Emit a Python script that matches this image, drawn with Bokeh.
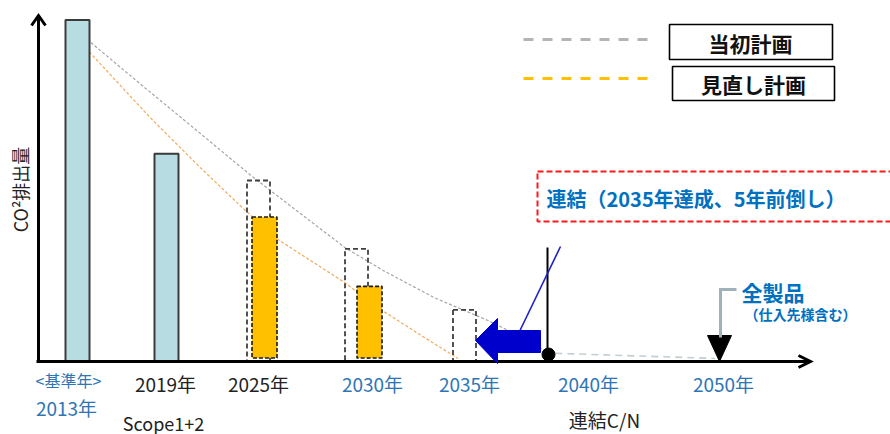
import numpy as np
from bokeh.plotting import figure
from bokeh.models import Range1d, Label
from bokeh.embed import file_html
from bokeh.resources import INLINE

# --- data: CO2 emissions, base year 2013 = 100 ---------------------------
years = [2013, 2019, 2025, 2030, 2035, 2040, 2050]
year_labels = ["2013年", "2019年", "2025年", "2030年", "2035年", "2040年", "2050年"]

actual_years = [2013, 2019]
actual_values = [100.0, 60.8]

initial_plan_years = [2025, 2030, 2035]
initial_plan_values = [53.0, 33.0, 15.1]

revised_plan_years = [2025, 2030]
revised_plan_values = [42.3, 22.0]

# reduction paths (当初計画 / 見直し計画)
initial_path_years = [2013.9, 2017.2, 2021.2, 2024.5, 2025.6, 2029.4, 2031.25, 2033.6, 2036.4, 2037.6, 2040.0]
initial_path_values = [93.4, 81.4, 66.8, 54.5, 50.1, 33.4, 26.6, 18.7, 12.0, 9.1, 2.6]
revised_path_years = [2013.0, 2013.7, 2017.9, 2021.2, 2024.0, 2026.0, 2029.4, 2031.2, 2033.0, 2034.7]
revised_path_values = [98.7, 91.1, 71.4, 56.8, 44.8, 35.7, 23.1, 14.9, 7.6, 0.9]
tail_years = [2040.4, 2049.8]
tail_values = [2.4, 0.9]

# --- layout --------------------------------------------------------------
W, H = 890, 434
BASE_ROW = 361          # canvas row of the time axis
UNIT = 3.415            # canvas rows per emission unit
slot_x = [77, 166, 258, 356, 464, 548, 718]   # horizontal slot of each year
revised_shift = [6, 13]                        # revised bars sit right of the plan boxes
label_x = [66, 165, 258, 372, 469, 588, 723]
label_colors = ["#2E75B6", "#222222", "#222222", "#2E75B6", "#2E75B6", "#2E75B6", "#2E75B6"]

JP = "Noto Sans CJK JP"
BLUE_TXT = "#0070C0"


def xpos(yrs):
    return np.interp(yrs, years, slot_x)


def lv(row):
    """canvas row -> value units on the emission scale"""
    return (BASE_ROW - row) / UNIT


p = figure(width=W, height=H, output_backend="svg", toolbar_location=None,
           x_range=Range1d(0, W), y_range=Range1d(lv(H), lv(0)),
           min_border=0, outline_line_color=None, background_fill_color="white")
p.axis.visible = False
p.grid.visible = False

# reduction paths
p.line(xpos(initial_path_years), initial_path_values, line_color="#a6a6a6",
       line_width=1.2, line_dash="3 2")
p.line(xpos(revised_path_years), revised_path_values, line_color="#f2aa5a",
       line_width=1.2, line_dash="3 2")
p.line(xpos(tail_years), tail_values, line_color="#c3ced3", line_width=1.6,
       line_dash="7 5")

# actual emissions
p.vbar(x=xpos(actual_years), top=actual_values, bottom=0, width=24,
       fill_color="#b7dde3", line_color="#3a3a3a", line_width=2)

# initial plan (dashed outline)
p.vbar(x=xpos(initial_plan_years), top=initial_plan_values, bottom=0, width=23,
       fill_color=None, line_color="#404040", line_width=1.8, line_dash="5 3")

# revised plan
p.vbar(x=xpos(revised_plan_years) + np.array(revised_shift), top=revised_plan_values,
       bottom=lv(357.5), width=25, fill_color="#FFC000", line_color="#1a1a1a",
       line_width=1.6, line_dash="4 2")

# axes with arrow heads
p.line([38, 38], [lv(362), lv(16)], line_color="black", line_width=3)
p.line([31, 38, 45], [lv(25), lv(15), lv(25)], line_color="black", line_width=3,
       line_join="miter")
p.line([36, 809], [0, 0], line_color="black", line_width=3)
p.line([798, 810, 798], [lv(355), lv(361), lv(367)], line_color="black",
       line_width=3, line_join="miter")

# 2040 marker: pole, pointer and dot
p.line([547, 547], [lv(247), lv(354)], line_color="black", line_width=2)
p.line([519, 560], [lv(331), lv(246)], line_color="#1f1fc8", line_width=1.6)
p.patch([475, 497, 497, 540, 540, 497, 497],
        [lv(340), lv(318), lv(330), lv(330), lv(352), lv(352), lv(363)],
        fill_color="#0000CC", line_color="#0000CC", line_width=1)
p.scatter([548], [lv(354)], size=13, fill_color="black", line_color="black")

# 2050 marker
p.patch([707, 731, 719], [lv(335), lv(335), lv(361)], fill_color="black",
        line_color="black")
p.line([720, 720, 736], [lv(337), lv(289), lv(289)], line_color="#9fb2bb",
       line_width=3, line_join="miter")

# legend
p.line([523, 648], [lv(39), lv(39)], line_color="#b4b4b4", line_width=3,
       line_dash="10 9")
p.line([523, 648], [lv(78), lv(78)], line_color="#FFC000", line_width=3,
       line_dash="10 9")
p.quad(left=[669, 672], right=[832, 834], top=[lv(24), lv(66)],
       bottom=[lv(59), lv(100)], fill_color="white", line_color="black",
       line_width=1.6)

# dashed call-out box
p.quad(left=[537], right=[896], top=[lv(171)], bottom=[lv(221)], fill_color=None,
       line_color="#ff1a1a", line_width=2, line_dash="6 3")


def label(x, row, text, size, color="#222222", bold=False, align="center", angle=0.0):
    p.add_layout(Label(x=x, y=lv(row), text=text, text_font=JP,
                       text_font_size=f"{size}px", text_color=color,
                       text_font_style="bold" if bold else "normal",
                       text_align=align, text_baseline="middle", angle=angle))


for lx, txt, col in zip(label_x, year_labels, label_colors):
    row = 407 if txt == "2013年" else 383
    label(lx, row, txt, 19, col)

label(68, 379, "<基準年>", 16, "#2E75B6")
label(163, 422, "Scope1+2", 18)
label(604, 419, "連結C/N", 19)
label(19, 189, "CO²排出量", 18, angle=np.pi / 2)

label(750, 42, "当初計画", 21, "#111111", bold=True)
label(753, 83, "見直し計画", 21, "#111111", bold=True)
label(546, 198, "連結（2035年達成、5年前倒し）", 20, BLUE_TXT, bold=True, align="left")
label(741, 291, "全製品", 21, BLUE_TXT, bold=True, align="left")
label(744, 313, "（仕入先様含む）", 14, BLUE_TXT, bold=True, align="left")

open("out.html", "w").write(file_html(p, INLINE))
